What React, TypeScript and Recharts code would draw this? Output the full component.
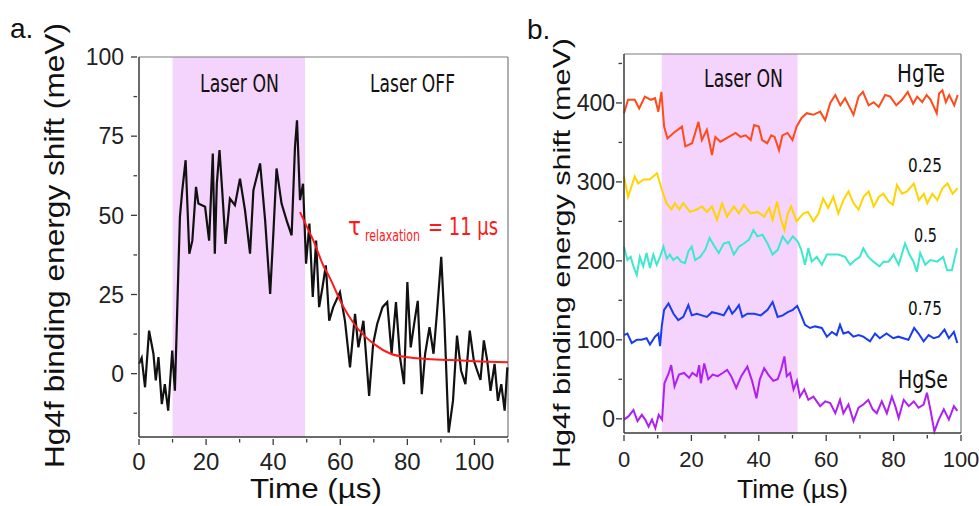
import React from 'react';
import { LineChart, Line, XAxis, YAxis, ReferenceArea, ReferenceLine } from 'recharts';

// panel a: Hg4f shift vs time
const aTime = [0, 0.8, 1.8, 3.0, 4.3, 5.0, 5.8, 6.8, 7.7, 8.7, 9.9, 10.7, 11.2, 11.7, 12.2, 12.9, 13.9, 15.0, 15.9, 17.0,
  17.7, 19.7, 20.9, 22.0, 22.6, 23.2, 24.0, 24.8, 25.8, 27.1, 28.6, 30.1, 31.6, 33.1, 34.1, 36.1, 37.6, 39.1, 40.1, 41.0,
  42.5, 44.0, 45.5, 46.5, 47.1, 48.0, 48.9, 49.8, 50.8, 51.8, 52.8, 53.7, 54.7, 55.7, 56.7, 57.9, 59.9, 61.4, 62.9, 64.4,
  65.4, 66.9, 68.6, 69.8, 71.0, 72.6, 74.0, 75.3, 76.6, 77.8, 79.0, 80.0, 81.0, 82.3, 83.1, 84.3, 85.3, 86.6, 87.8, 88.8,
  90.1, 91.0, 92.3, 93.6, 94.8, 96.0, 97.3, 98.6, 99.8, 100.8, 101.8, 102.8, 103.8, 104.8, 106.0, 107.0, 108.0, 109.0, 109.8];
const aShift = [3.1, 5, -4.3, 13.6, 6.3, -2.1, 5.2, -9.6, -3.3, -11.7, 7.3, -5.4, 12.6, 31.6, 49.5, 57.9, 67.4, 37.9, 42, 59,
  53.7, 52.7, 42, 69.5, 37.9, 60, 70.6, 57.9, 41, 55.3, 53.2, 61.6, 51.6, 37.9, 57.9, 66.4, 48.4, 25.2, 45.3, 64.8,
  53.7, 48.4, 43.7, 71.6, 80, 54.8, 60, 34.7, 47.4, 24.2, 42, 21, 27.3, 34.2, 16.7, 21, 25.7, 16.7, 2, 18.9,
  8.3, 16.7, -7, 9.4, 15.7, 21, 22.6, 6.3, 22.6, 5.2, -3.3, 28.9, 8.3, 17.7, 23, -6.5, 6.3, 14.7, 6.3, 18.9,
  36.9, 17.7, -18.6, -8.6, 12, 1, -3.3, 13.6, 4.2, 1, -2, 10.5, 4.2, -5.4, 3.1, -8.6, -3.3, -11.7, 2];

// red relaxation fit
const aFitTime = [48, 50, 52, 55, 57, 60, 65, 70, 75, 80, 85, 90, 95, 100, 110];
const aFitShift = [51, 46.5, 42, 34, 30, 23, 14.5, 9.4, 6.3, 5.2, 4.7, 4.4, 4.2, 3.9, 3.6];

// panel b: stacked traces, HgTe -> HgSe
const bTimeTe = [0, 1.2, 3.2, 4.5, 6.2, 8, 9.2, 10.2, 11.1, 11.9, 12.9, 14.7, 17.2, 18.2, 20.2, 22.1, 23.1, 24.6, 26.1, 27.1,
  28.6, 31.1, 33.1, 34.6, 36.1, 37.6, 38.6, 40, 41, 42.5, 43.7, 44.7, 46, 47, 48.5, 50, 51.2, 52.7, 54.2, 56.2,
  58.2, 59.7, 61.2, 62.7, 64.2, 65.6, 66.9, 68.1, 69.6, 70.9, 72.6, 74.1, 75.6, 77.5, 79, 80.8, 82.5, 84.2, 85.8, 87,
  88.5, 89.8, 91, 92.8, 93.5, 94.5, 95.5, 96.5, 98, 99];
const bHgTe = [387, 404, 404, 393, 408, 404, 406, 389, 414, 370, 355, 362, 370, 345, 349, 376, 353, 366, 334, 357,
  351, 357, 362, 357, 359, 353, 372, 370, 353, 349, 359, 357, 340, 359, 362, 353, 370, 381, 387, 385,
  389, 378, 400, 410, 397, 406, 395, 385, 408, 414, 397, 401, 395, 410, 408, 397, 404, 414, 399, 408,
  401, 410, 404, 387, 412, 416, 401, 410, 397, 410];

const bTime25 = [0, 1.2, 2.2, 3.2, 4.2, 5.8, 7.6, 9.8, 11.1, 12.6, 14.1, 15.1, 16.4, 17.6, 19.6, 21.6, 23.1, 24.6, 26.1, 27.6,
  29.1, 30.6, 32.6, 34.1, 35.6, 37.6, 39.6, 41.6, 43.1, 44.1, 45.4, 46.6, 47.6, 48.6, 49.6, 51.2, 53.2, 54.6, 56.2, 57.7,
  59.1, 60.6, 62.1, 63.6, 65.1, 66.6, 68.1, 69.6, 71.1, 72.6, 74.1, 75.6, 77, 78.5, 79.8, 81, 82.5, 84, 86, 87.5,
  89, 90, 91.5, 93, 94.5, 96, 97.5, 99];
const bX25 = [307, 281, 294, 307, 298, 303, 303, 311, 292, 273, 265, 273, 265, 273, 262, 265, 269, 262, 269, 252,
  273, 256, 269, 260, 271, 260, 262, 256, 267, 252, 275, 252, 239, 260, 269, 250, 260, 262, 250, 260,
  279, 267, 281, 260, 277, 288, 273, 265, 281, 288, 269, 281, 285, 275, 271, 296, 285, 288, 298, 277,
  285, 273, 285, 277, 292, 298, 285, 292];

const bTime50 = [0, 1, 2, 2.8, 3.8, 4.7, 5.7, 6.7, 7.7, 8.7, 9.7, 10.7, 11.7, 12.7, 13.6, 14.6, 15.8, 16.9, 18.1, 19.1,
  20.1, 21.1, 22.6, 24.1, 25.4, 26.6, 28.1, 29.6, 31.1, 32.6, 34.1, 35.6, 37.1, 38.4, 39.6, 41.1, 42.6, 44.1, 45.6, 47.1,
  48.6, 50.1, 51.6, 52.6, 53.7, 54.7, 55.7, 57.2, 58.7, 60.2, 61.7, 63.6, 65.6, 67.1, 68.6, 70, 71, 72.5, 74, 75.8,
  77, 78.5, 80, 81.5, 83.4, 84.7, 85.9, 86.9, 87.9, 89.4, 90.9, 92.9, 94.7, 95.9, 97.3, 98.8];
const bX50 = [218, 201, 205, 193, 182, 205, 193, 210, 191, 208, 195, 205, 218, 203, 208, 201, 205, 199, 197, 212,
  218, 201, 205, 214, 229, 220, 210, 222, 224, 208, 218, 222, 227, 239, 231, 233, 222, 208, 214, 231,
  222, 231, 224, 214, 195, 216, 199, 205, 195, 208, 208, 208, 205, 195, 201, 205, 216, 205, 199, 193,
  199, 199, 208, 195, 222, 208, 199, 186, 210, 195, 201, 199, 205, 188, 188, 216];

const bTime75 = [0, 1, 2.3, 3.8, 5.2, 6.7, 7.7, 9.2, 10.2, 10.7, 11.2, 11.9, 13.2, 14.7, 16.1, 17.6, 19.1, 20.1, 21.6, 23.1,
  24.6, 26.1, 28.1, 29.6, 31.1, 32.1, 33.1, 34.1, 35.1, 36.6, 38.6, 40.6, 42.6, 44.1, 45.6, 47.1, 48.6, 50.1, 51.4, 52.6,
  53.7, 55.2, 56.7, 58.7, 60.2, 61.7, 63.1, 64.1, 65.1, 66.6, 68.1, 69.6, 71, 73, 74.5, 75.9, 77.9, 79.9, 81.4, 82.9,
  84.4, 86.1, 87.4, 88.9, 90.4, 91.9, 93.4, 95.1, 96.4, 97.9, 98.9];
const bX75 = [106, 108, 96, 100, 100, 102, 94, 104, 108, 92, 117, 138, 146, 133, 125, 129, 144, 131, 133, 131,
  129, 135, 133, 131, 142, 133, 138, 144, 129, 133, 133, 131, 138, 148, 129, 131, 135, 138, 143, 131,
  119, 115, 117, 115, 104, 110, 106, 119, 108, 110, 104, 106, 104, 98, 108, 102, 108, 102, 104, 102,
  100, 115, 108, 98, 106, 102, 104, 113, 102, 110, 96];

const bTimeSe = [0, 1.3, 2.8, 4, 5.3, 6.3, 7.3, 8.3, 9.3, 10.3, 11.3, 12, 13.3, 14, 15, 16.3, 17.8, 19.3, 20.3, 21.6,
  22.3, 22.8, 23.8, 25, 26.3, 27.8, 29.3, 30.6, 31.8, 33.3, 34.8, 36.6, 38, 39.3, 40.3, 41.6, 42.8, 44.3, 45.6, 46.6,
  47.6, 48.3, 49.3, 50.3, 51.3, 52.2, 53.5, 54.7, 56.2, 58.2, 59.7, 61.2, 62.7, 64.1, 65.1, 66.6, 68.1, 69.6, 71, 72.5,
  73.8, 75, 76.5, 78, 79.5, 80.5, 81.5, 83, 84.5, 86, 87.4, 88.9, 89.9, 90.9, 92.1, 93.4, 94.9, 96.4, 97.9, 98.9];
const bHgSe = [-1, 3, 11, -3, 5, -1, -10, -1, -12, 5, -1, 45, 58, 68, 41, 56, 58, 52, 58, 54,
  68, 45, 70, 50, 56, 54, 58, 62, 54, 39, 54, 66, 48, 26, 50, 64, 56, 48, 50, 62,
  79, 54, 58, 37, 48, 28, 37, 24, 28, 16, 22, 20, 7, 24, 7, 18, -3, 14, 18, 24,
  12, 7, 22, 7, 28, 16, 1, 24, 16, 22, 14, 18, 33, 12, -16, -1, 12, -1, 16, 10];

const aTicksX = [0, 10, 20, 30, 40, 50, 60, 70, 80, 90, 100, 110];
const aMajorX = [0, 20, 40, 60, 80, 100];
const aTicksY = [-12.5, 0, 12.5, 25, 37.5, 50, 62.5, 75, 87.5, 100];
const aMajorY = [0, 25, 50, 75, 100];
const bTicksX = [0, 10, 20, 30, 40, 50, 60, 70, 80, 90, 100];
const bMajorX = [0, 20, 40, 60, 80, 100];
const bTicksY = [0, 50, 100, 150, 200, 250, 300, 350, 400, 450];
const bMajorY = [0, 100, 200, 300, 400];

const zip = (ts: number[], vs: number[]) => ts.map((t, i) => ({ t, v: vs[i] }));

const sans = '"Liberation Sans", Arial, sans-serif';
const narrow = '"Liberation Sans Narrow", "DejaVu Sans Condensed", "Liberation Sans", sans-serif';
const axisColor = '#3a3a3a';
const frameColor = '#7a7a7a';
const shade = '#f4d4fc';

function LeftTick(props: any) {
  const { x, y, payload, majors, fontSize, gap } = props;
  const major = majors.includes(payload.value);
  return (
    <g>
      <line x1={x} y1={y} x2={x - (major ? 6 : 3.5)} y2={y} stroke={axisColor} strokeWidth={1.3} />
      {major && (
        <text x={x - gap} y={y} dy="0.36em" textAnchor="end" fontSize={fontSize} fontFamily={sans} fill="#222">
          {payload.value}
        </text>
      )}
    </g>
  );
}

function BottomTick(props: any) {
  const { x, y, payload, majors, fontSize, drop } = props;
  const major = majors.includes(payload.value);
  return (
    <g>
      <line x1={x} y1={y} x2={x} y2={y + (major ? 6 : 3.5)} stroke={axisColor} strokeWidth={1.3} />
      {major && (
        <text x={x} y={y + drop} textAnchor="middle" fontSize={fontSize} fontFamily={sans} fill="#222">
          {payload.value}
        </text>
      )}
    </g>
  );
}

function PanelA() {
  const trace = zip(aTime, aShift);
  const fit = zip(aFitTime, aFitShift);
  return (
    <LineChart width={520} height={506} margin={{ top: 57, right: 12, bottom: 39, left: 79 }}>
      <ReferenceArea x1={10} x2={49.5} fill={shade} fillOpacity={1} stroke="none" />
      <ReferenceLine y={100} stroke={frameColor} strokeWidth={1.2} />
      <ReferenceLine x={110} stroke={frameColor} strokeWidth={1.2} />
      <XAxis dataKey="t" type="number" domain={[0, 110]} ticks={aTicksX} interval={0} height={30}
        tickSize={0} tickLine={false} axisLine={{ stroke: axisColor, strokeWidth: 1.5 }}
        tick={(p: any) => <BottomTick {...p} majors={aMajorX} fontSize={24} drop={31} />} />
      <YAxis type="number" domain={[-20, 100]} ticks={aTicksY} interval={0} width={60}
        tickSize={0} tickLine={false} axisLine={{ stroke: axisColor, strokeWidth: 1.5 }}
        tick={(p: any) => <LeftTick {...p} majors={aMajorY} fontSize={23} gap={13} />} />
      <Line data={trace} dataKey="v" type="linear" stroke="#111" strokeWidth={2.2} dot={false} isAnimationActive={false} />
      <Line data={fit} dataKey="v" type="monotone" stroke="#ff1a1a" strokeWidth={2} dot={false} isAnimationActive={false} />
    </LineChart>
  );
}

function PanelB() {
  const series = [
    { name: 'HgTe', data: zip(bTimeTe, bHgTe), color: '#ff4a1a' },
    { name: '0.25', data: zip(bTime25, bX25), color: '#ffd400' },
    { name: '0.5', data: zip(bTime50, bX50), color: '#3ee8cc' },
    { name: '0.75', data: zip(bTime75, bX75), color: '#1a3cf0' },
    { name: 'HgSe', data: zip(bTimeSe, bHgSe), color: '#b020f0' },
  ];
  return (
    <LineChart width={459} height={506} margin={{ top: 54, right: 18, bottom: 43, left: 44 }}>
      <ReferenceArea x1={11.2} x2={51.5} fill={shade} fillOpacity={1} stroke="none" />
      <ReferenceLine y={462} stroke={frameColor} strokeWidth={1.2} />
      <ReferenceLine x={100} stroke={frameColor} strokeWidth={1.2} />
      <XAxis dataKey="t" type="number" domain={[0, 100]} ticks={bTicksX} interval={0} height={30}
        tickSize={0} tickLine={false} axisLine={{ stroke: axisColor, strokeWidth: 1.5 }}
        tick={(p: any) => <BottomTick {...p} majors={bMajorX} fontSize={22} drop={32} />} />
      <YAxis type="number" domain={[-18, 462]} ticks={bTicksY} interval={0} width={60}
        tickSize={0} tickLine={false} axisLine={{ stroke: axisColor, strokeWidth: 1.5 }}
        tick={(p: any) => <LeftTick {...p} majors={bMajorY} fontSize={23} gap={7} />} />
      {series.map((s) => (
        <Line key={s.name} data={s.data} dataKey="v" name={s.name} type="linear" stroke={s.color}
          strokeWidth={2} dot={false} isAnimationActive={false} />
      ))}
    </LineChart>
  );
}

function Annotations() {
  const txt = { fill: '#111' };
  return (
    <svg width={979} height={506} style={{ position: 'absolute', left: 0, top: 0, pointerEvents: 'none' }}>
      <text x={10} y={38} fontSize={28} fontFamily={sans} {...txt}>a.</text>
      <text x={527} y={39} fontSize={28} fontFamily={sans} {...txt}>b.</text>

      <text transform="translate(64,468) rotate(-90)" fontSize={27} fontFamily={sans} textLength={445}
        lengthAdjust="spacingAndGlyphs" {...txt}>Hg4f binding energy shift (meV)</text>
      <text x={250} y={498} fontSize={27} fontFamily={sans} textLength={132} lengthAdjust="spacingAndGlyphs" {...txt}>Time (µs)</text>
      <text x={200} y={92} fontSize={25} fontFamily={narrow} textLength={79} lengthAdjust="spacingAndGlyphs" {...txt}>Laser ON</text>
      <text x={370} y={92} fontSize={25} fontFamily={narrow} textLength={85} lengthAdjust="spacingAndGlyphs" {...txt}>Laser OFF</text>
      {/* tau with subscript, split into three so the pieces do not overlap */}
      <text x={348} y={235} fontSize={24} fontFamily={narrow} fill="#ff1a1a">τ</text>
      <text x={365} y={241} fontSize={15} fontFamily={narrow} textLength={55} lengthAdjust="spacingAndGlyphs" fill="#ff1a1a">relaxation</text>
      <text x={428} y={235} fontSize={24} fontFamily={narrow} textLength={70} lengthAdjust="spacingAndGlyphs" fill="#ff1a1a">= 11 µs</text>

      <text transform="translate(570,468) rotate(-90)" fontSize={24} fontFamily={sans} textLength={430}
        lengthAdjust="spacingAndGlyphs" {...txt}>Hg4f binding energy shift (meV)</text>
      <text x={737} y={498} fontSize={25} fontFamily={sans} textLength={111} lengthAdjust="spacingAndGlyphs" {...txt}>Time (µs)</text>
      <text x={704} y={87} fontSize={24} fontFamily={narrow} textLength={79} lengthAdjust="spacingAndGlyphs" {...txt}>Laser ON</text>
      <text x={897} y={82} fontSize={25} fontFamily={narrow} textLength={48} lengthAdjust="spacingAndGlyphs" {...txt}>HgTe</text>
      <text x={908} y={172} fontSize={19} fontFamily={narrow} textLength={34} lengthAdjust="spacingAndGlyphs" {...txt}>0.25</text>
      <text x={914} y={242} fontSize={19} fontFamily={narrow} textLength={23} lengthAdjust="spacingAndGlyphs" {...txt}>0.5</text>
      <text x={908} y={315} fontSize={19} fontFamily={narrow} textLength={34} lengthAdjust="spacingAndGlyphs" {...txt}>0.75</text>
      <text x={898} y={388} fontSize={25} fontFamily={narrow} textLength={50} lengthAdjust="spacingAndGlyphs" {...txt}>HgSe</text>
    </svg>
  );
}

export default function App() {
  return (
    <div style={{ position: 'absolute', left: 0, top: 0, width: 979, height: 506, background: '#fff', overflow: 'hidden' }}>
      <div style={{ position: 'absolute', left: 0, top: 0 }}>
        <PanelA />
      </div>
      <div style={{ position: 'absolute', left: 520, top: 0 }}>
        <PanelB />
      </div>
      <Annotations />
    </div>
  );
}
